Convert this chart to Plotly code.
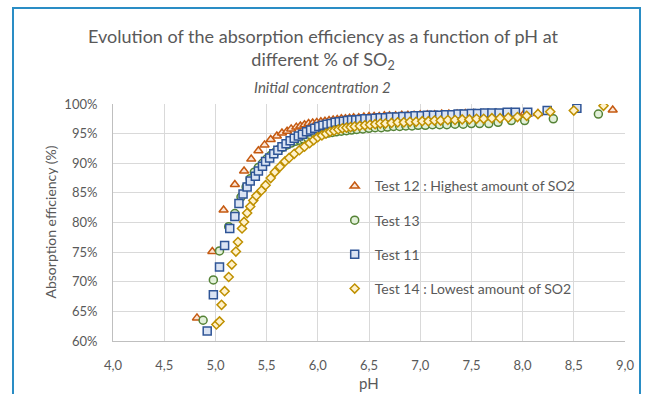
import plotly.graph_objects as go

# Test 12 : highest amount of SO2 (triangles)
ph_12 = [4.82, 4.97, 5.08, 5.19, 5.28, 5.35, 5.42, 5.48, 5.54, 5.60, 5.65, 5.70, 5.74, 5.79,
         5.83, 5.87, 5.91, 5.95, 5.99, 6.03, 6.07, 6.11, 6.15, 6.19, 6.23, 6.27, 6.31, 6.35,
         6.40, 6.45, 6.50, 6.55, 6.60, 6.65, 6.70, 6.76, 6.82, 6.88, 6.94, 7.00, 7.07, 7.14,
         7.21, 7.28, 7.36, 7.44, 7.52, 7.62, 7.74, 7.88, 8.02, 8.15, 8.88]
eff_12 = [63.9, 75.1, 82.1, 86.4, 88.7, 90.7, 92.1, 93.1, 94.0, 94.6, 95.1, 95.4, 95.8, 96.1,
          96.3, 96.5, 96.7, 96.8, 96.9, 97.0, 97.1, 97.2, 97.3, 97.4, 97.5, 97.5, 97.6, 97.7,
          97.7, 97.8, 97.9, 97.9, 97.9, 98.0, 98.0, 98.0, 98.1, 98.1, 98.1, 98.2, 98.2, 98.2,
          98.3, 98.3, 98.3, 98.4, 98.4, 98.4, 98.5, 98.5, 98.5, 98.4, 99.0]

# Test 13 (circles)
ph_13 = [4.88, 4.98, 5.04, 5.13, 5.19, 5.25, 5.30, 5.34, 5.38, 5.42, 5.46, 5.50, 5.54, 5.58,
         5.62, 5.66, 5.70, 5.74, 5.78, 5.82, 5.86, 5.90, 5.94, 5.98, 6.02, 6.06, 6.10, 6.14,
         6.18, 6.23, 6.28, 6.33, 6.38, 6.44, 6.50, 6.56, 6.62, 6.68, 6.74, 6.80, 6.86, 6.92,
         6.98, 7.05, 7.12, 7.19, 7.26, 7.34, 7.42, 7.50, 7.58, 7.67, 7.76, 7.89, 8.02, 8.30, 8.74]
eff_13 = [63.5, 70.3, 75.2, 79.3, 81.5, 84.3, 86.0, 87.4, 88.5, 89.3, 90.0, 90.7, 91.3, 91.8,
          92.3, 92.7, 93.1, 93.4, 93.7, 93.9, 94.1, 94.3, 94.5, 94.7, 94.8, 95.0, 95.1, 95.2,
          95.3, 95.4, 95.5, 95.6, 95.7, 95.8, 95.9, 96.0, 96.0, 96.1, 96.2, 96.2, 96.3, 96.3,
          96.4, 96.4, 96.5, 96.5, 96.5, 96.6, 96.6, 96.7, 96.7, 96.7, 96.9, 97.2, 97.2, 97.5, 98.3]

# Test 11 (squares)
ph_11 = [4.92, 4.98, 5.04, 5.09, 5.14, 5.19, 5.23, 5.27, 5.31, 5.34, 5.39, 5.42, 5.46, 5.49,
         5.53, 5.57, 5.61, 5.65, 5.69, 5.73, 5.77, 5.81, 5.85, 5.89, 5.93, 5.97, 6.01, 6.05,
         6.09, 6.13, 6.17, 6.21, 6.25, 6.29, 6.33, 6.37, 6.41, 6.46, 6.51, 6.56, 6.61, 6.66,
         6.71, 6.77, 6.83, 6.89, 6.95, 7.01, 7.07, 7.13, 7.19, 7.25, 7.31, 7.37, 7.43, 7.50,
         7.56, 7.63, 7.70, 7.77, 7.85, 7.93, 8.05, 8.24, 8.53]
eff_11 = [61.7, 67.8, 72.5, 76.1, 79.0, 81.0, 83.2, 84.8, 86.0, 87.0, 87.8, 88.7, 89.5, 90.3,
          90.9, 91.6, 92.2, 92.8, 93.3, 93.8, 94.2, 94.6, 94.9, 95.3, 95.6, 95.9, 96.2, 96.4,
          96.6, 96.7, 96.9, 97.0, 97.1, 97.2, 97.3, 97.3, 97.4, 97.5, 97.5, 97.6, 97.7, 97.7,
          97.8, 97.8, 97.9, 97.9, 98.0, 98.0, 98.1, 98.1, 98.1, 98.2, 98.2, 98.3, 98.3, 98.4,
          98.4, 98.5, 98.5, 98.5, 98.6, 98.6, 98.6, 98.9, 99.3]

# Test 14 : lowest amount of SO2 (diamonds)
ph_14 = [5.01, 5.04, 5.06, 5.09, 5.13, 5.16, 5.20, 5.22, 5.26, 5.28, 5.31, 5.34, 5.37, 5.40,
         5.45, 5.49, 5.54, 5.58, 5.63, 5.68, 5.72, 5.77, 5.82, 5.87, 5.92, 5.96, 6.00, 6.04,
         6.08, 6.12, 6.16, 6.20, 6.24, 6.28, 6.32, 6.36, 6.41, 6.46, 6.51, 6.56, 6.61, 6.66,
         6.72, 6.78, 6.84, 6.90, 6.96, 7.02, 7.08, 7.14, 7.20, 7.27, 7.34, 7.41, 7.48, 7.55,
         7.62, 7.70, 7.78, 7.86, 7.95, 8.04, 8.15, 8.27, 8.50, 8.79]
eff_14 = [62.8, 63.3, 66.1, 68.4, 70.8, 72.9, 75.1, 76.7, 79.0, 80.1, 81.6, 82.7, 83.7, 84.5,
          85.4, 86.3, 87.5, 88.5, 89.4, 90.3, 90.9, 91.6, 92.2, 92.8, 93.4, 93.9, 94.4, 94.7,
          95.0, 95.3, 95.5, 95.7, 95.9, 96.0, 96.1, 96.2, 96.3, 96.4, 96.5, 96.6, 96.7, 96.7,
          96.8, 96.9, 96.9, 97.0, 97.0, 97.1, 97.1, 97.2, 97.2, 97.3, 97.3, 97.4, 97.4, 97.5,
          97.5, 97.6, 97.6, 97.7, 97.8, 98.0, 98.3, 98.7, 98.9, 99.7]

x_ticks = [4.0, 4.5, 5.0, 5.5, 6.0, 6.5, 7.0, 7.5, 8.0, 8.5, 9.0]
y_ticks = [60, 65, 70, 75, 80, 85, 90, 95, 100]
y_tick_labels = ["60%", "65%", "70%", "75%", "80%", "85%", "90%", "95%", "100%"]

FONT = "Lato"
GREY = "#595959"

series = [
    ("Test 12 : Highest amount of SO2", ph_12, eff_12, "triangle-up", "#C55A11", "#FBE5D6", 8),
    ("Test 13", ph_13, eff_13, "circle", "#548235", "#E2F0D9", 8),
    ("Test 11", ph_11, eff_11, "square", "#2F5597", "#DAE3F3", 8),
    ("Test 14 : Lowest amount of SO2", ph_14, eff_14, "diamond", "#BF9000", "#FFF2CC", 7),
]

fig = go.Figure()
for i, (name, xs, ys, sym, line_c, fill_c, size) in enumerate(series):
    fig.add_trace(go.Scatter(
        x=xs, y=ys, mode="markers", name=name, legendgroup=str(i),
        marker=dict(symbol=sym, size=size, color=fill_c,
                    line=dict(color=line_c, width=1.5)),
    ))

fig.update_layout(
    width=646, height=394,
    margin=dict(l=113, r=21, t=104, b=53),
    paper_bgcolor="white", plot_bgcolor="white",
    separators=",.",
    font=dict(family=FONT, color=GREY, size=13),
    title=dict(text="Evolution of the absorption efficiency as a function of pH at<br>different % of SO<sub>2</sub>",
               x=0.5, xref="container", y=1 - 43 / 394, yref="container",
               xanchor="center", yanchor="middle",
               font=dict(family=FONT, size=18, color=GREY)),
    legend=dict(x=0.433, y=0.72, xanchor="left", yanchor="top",
                bgcolor="rgba(0,0,0,0)", tracegroupgap=13,
                font=dict(family=FONT, size=14, color=GREY)),
    showlegend=True,
)

fig.update_xaxes(range=[4, 9], tickvals=x_ticks, tickformat=".1f",
                 showgrid=True, gridcolor="#D9D9D9", gridwidth=1,
                 showline=True, linecolor="#BFBFBF", linewidth=1,
                 zeroline=False, ticks="", ticklabelstandoff=12,
                 tickfont=dict(size=13, color=GREY))
fig.update_yaxes(range=[60, 100], tickvals=y_ticks, ticktext=y_tick_labels,
                 showgrid=True, gridcolor="#D9D9D9", gridwidth=1,
                 showline=True, linecolor="#BFBFBF", linewidth=1,
                 zeroline=False, ticks="", ticklabelstandoff=12,
                 tickfont=dict(size=13, color=GREY))

fig.add_annotation(text="<i>Initial concentration 2</i>", xref="paper", yref="paper",
                   x=(322 - 113) / 512, y=(341 - 87) / 237, xanchor="center", yanchor="middle",
                   showarrow=False, font=dict(family=FONT, size=15, color=GREY))
fig.add_annotation(text="Absorption efficiency (%)", xref="paper", yref="paper",
                   x=(50 - 113) / 512, y=0.5, xanchor="center", yanchor="middle",
                   textangle=-90, showarrow=False,
                   font=dict(family=FONT, size=14, color=GREY))
fig.add_annotation(text="pH", xref="paper", yref="paper",
                   x=0.5, y=(341 - 383) / 237, xanchor="center", yanchor="middle",
                   showarrow=False, font=dict(family=FONT, size=15, color=GREY))

# chart frame
fig.add_shape(type="rect", xref="paper", yref="paper",
              x0=(13 - 113) / 512, x1=(640 - 113) / 512,
              y0=(341 - 420) / 237, y1=(341 - 8) / 237,
              line=dict(color="#2A8DC5", width=2), layer="below")

fig.write_html("out.html", config={"displayModeBar": False},
               post_script="document.body.style.margin='0';")
